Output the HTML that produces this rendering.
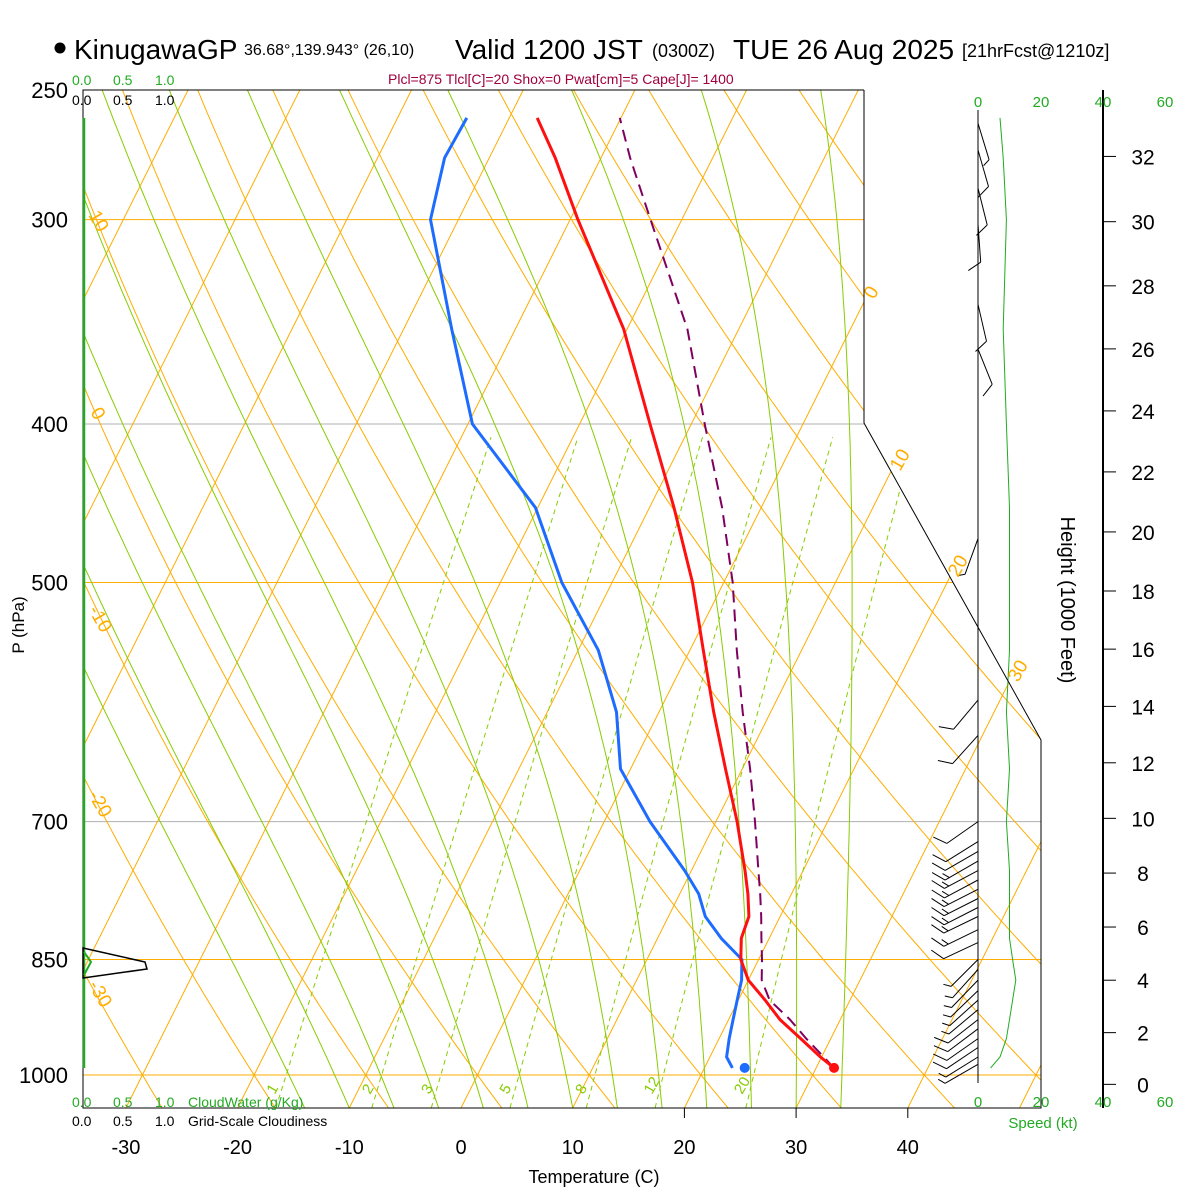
<!DOCTYPE html>
<html><head><meta charset="utf-8"><style>
html,body{margin:0;padding:0;background:#fff;}
svg{display:block;font-family:"Liberation Sans",sans-serif;}
</style></head><body>
<svg id="chart" width="1200" height="1200" viewBox="0 0 1200 1200" xmlns="http://www.w3.org/2000/svg">
<defs><clipPath id="plotclip"><polygon points="83,90 864,90 864,423 1041,740 1041,1108 83,1108"/></clipPath></defs>
<g id="bg" clip-path="url(#plotclip)"></g>
<g id="traces"></g>
<g id="winds"></g>
<g id="axes"></g>
<g>
<circle cx="60" cy="48" r="5.5" fill="#000"/>
<text x="74" y="59" font-size="28">KinugawaGP</text>
<text x="244" y="55" font-size="16">36.68°,139.943° (26,10)</text>
<text x="455" y="59" font-size="28">Valid 1200 JST</text>
<text x="652" y="57" font-size="18">(0300Z)</text>
<text x="733" y="59" font-size="28">TUE 26 Aug 2025</text>
<text x="962" y="57" font-size="18">[21hrFcst@1210z]</text>
<text x="388" y="84" font-size="14" fill="#a0003c">Plcl=875 Tlcl[C]=20 Shox=0 Pwat[cm]=5 Cape[J]= 1400</text>
</g>
<script>
// ---------- data ----------
const levels   = [990, 975, 950, 925, 900, 875, 850, 825, 800, 775, 750, 700, 650, 600, 550, 500, 450, 400, 350, 300, 275, 260];
const tempC    = [31.6, 29.9, 27.3, 24.6, 22.4, 20.0, 18.4, 17.5, 17.2, 16.1, 14.8, 11.9, 8.5, 4.9, 1.2, -2.8, -7.8, -13.7, -20.3, -29.3, -34.1, -37.5];
const dewC     = [22.5, 21.5, 20.9, 20.4, 19.9, 19.4, 18.5, 15.7, 13.3, 11.7, 9.4, 4.1, -0.9, -3.8, -8.2, -14.5, -20.2, -29.6, -35.7, -42.5, -44.0, -43.8];
const parcelC  = [31.6, 30.2, 27.8, 25.5, 22.8, 21.2, 20.3, 19.3, 18.3, 17.2, 16.0, 13.5, 10.7, 7.5, 4.2, 0.8, -3.5, -8.8, -14.6, -22.8, -27.4, -30.1];
const sfcTemp = 31.6, sfcDew = 23.6, sfcP = 990;
const speedKt  = [4, 7, 9, 10, 11, 12, 11, 10, 10, 10, 10, 9, 10, 9, 10, 10, 10, 9, 8, 9, 8, 7];
const barbP    = [262, 272, 287, 302, 338, 360, 470, 590, 620, 700, 720, 730, 740, 750, 760, 770, 780, 790, 800, 815, 830, 850, 862, 875, 888, 900, 912, 925, 937, 950, 962, 975, 985];
const barbDir  = [163, 164, 166, 176, 167, 158, 200, 220, 222, 235, 238, 240, 240, 242, 242, 243, 243, 243, 244, 244, 245, 225, 222, 224, 226, 228, 230, 232, 233, 235, 236, 238, 240];
const barbSpd  = [5, 10, 10, 10, 10, 10, 5, 10, 10, 10, 10, 10, 15, 15, 15, 15, 15, 15, 15, 15, 10, 5, 5, 5, 5, 5, 5, 10, 10, 10, 10, 5, 5];
const tempTicks = [-30, -20, -10, 0, 10, 20, 30, 40];
const presTicks = [250, 300, 400, 500, 700, 850, 1000];
const heightTicks = [0, 2, 4, 6, 8, 10, 12, 14, 16, 18, 20, 22, 24, 26, 28, 30, 32];
const isotherms = [-100,-90,-80,-70,-60,-50,-40,-30,-20,-10,0,10,20,30,40,50];
const dryAdiabats = [-40,-30,-20,-10,0,10,20,30,40,50,60,70,80,90,100,110,120,130,140,150,160,170,180];
const moistStarts = [-14,-10,-6,-2,2,6,10,14,18,22,26,30,34];
const mixRatios = [1, 2, 3, 5, 8, 12, 20];

// ---------- axis functions ----------
const NS = "http://www.w3.org/2000/svg";
function yP(p){ return 1075 - 710.5*Math.log(1000/p); }
function xT(t, y){ return 461 + 11.17*t + 0.5*(1108 - y); }
function hToP(kft){ return 1013.25*Math.pow(1 - 6.8756e-6*kft*1000, 5.2559); }
function xSpd(s){ return 978 + 3.15*s; }
function mk(tag, attrs, parent){ const e = document.createElementNS(NS, tag); for (const k in attrs) e.setAttribute(k, attrs[k]); parent.appendChild(e); return e; }
const bg = document.getElementById('bg'), tr = document.getElementById('traces'), wd = document.getElementById('winds'), ax = document.getElementById('axes');
const ORANGE = "#ffad00", GREEN = "#88cc00";
const pBottom = 1000*Math.exp(33/710.5);

// isobars
const isoCol = {250:"#000",300:ORANGE,400:"#b0b0b0",500:ORANGE,700:"#b0b0b0",850:ORANGE,1000:ORANGE};
presTicks.forEach(p => {
  if (p === 250) return;
  const y = yP(p);
  const l = mk('line', {x1:83, x2:1041, y1:y, y2:y, stroke:isoCol[p], 'stroke-width':1}, bg);
  
  
});
// isotherms
isotherms.forEach(t => {
  const l = mk('line', {x1:xT(t,1108), y1:1108, x2:xT(t,90), y2:90, stroke:ORANGE, 'stroke-width':1}, bg);
  
  
});
// dry adiabats
dryAdiabats.forEach(t0 => {
  const th = t0 + 273.15; let pts = [];
  for (let p = pBottom; p >= 240; p -= 10) { const y = yP(p); pts.push(xT(th*Math.pow(p/1000, 0.2857) - 273.15, y).toFixed(1) + ',' + y.toFixed(1)); }
  const l = mk('polyline', {points:pts.join(' '), fill:'none', stroke:ORANGE, 'stroke-width':1}, bg);
  
  
});
// moist adiabats
function es(tc){ return 6.112*Math.exp(17.67*tc/(tc+243.5)); }
moistStarts.forEach(t0 => {
  let T = t0 + 273.15, lp = Math.log(pBottom), pts = [];
  const Rd = 287.04, cp = 1005.7, Lv = 2.501e6, eps = 0.622;
  while (Math.exp(lp) > 240) {
    const p = Math.exp(lp), y = yP(p);
    pts.push(xT(T-273.15, y).toFixed(1) + ',' + y.toFixed(1));
    const e = es(T-273.15), rs = eps*e/(p-e);
    const dT = (Rd*T + Lv*rs)/(cp + Lv*Lv*rs*eps/(Rd*T*T));
    lp -= 0.01; T -= dT*0.01;
  }
  const l = mk('polyline', {points:pts.join(' '), fill:'none', stroke:GREEN, 'stroke-width':1}, bg);
  
  
});
// mixing ratio lines
mixRatios.forEach(w => {
  let pts = [];
  for (let p = pBottom; p >= 400; p -= 10) {
    const e = w*p/(622+w), a = Math.log(e/6.112), td = 243.5*a/(17.67-a), y = yP(p);
    pts.push(xT(td, y).toFixed(1) + ',' + y.toFixed(1));
  }
  const l = mk('polyline', {points:pts.join(' '), fill:'none', stroke:GREEN, 'stroke-width':1, 'stroke-dasharray':'5,4'}, bg);
  
  
  const p0 = 1000, e0 = w*p0/(622+w), a0 = Math.log(e0/6.112), td0 = 243.5*a0/(17.67-a0);
  const lx = xT(td0, 1090) - 4;
  const tx = mk('text', {x:lx, y:1095, 'font-size':15, fill:GREEN, transform:'rotate(-60 '+lx+' 1095)'}, ax);
  tx.textContent = w;
  
  
});

// traces
function trace(arr, color, width, dash, name){
  const pts = levels.map((p,i) => { const y = yP(p); return xT(arr[i], y).toFixed(1) + ',' + y.toFixed(1); });
  const l = mk('polyline', {points:pts.join(' '), fill:'none', stroke:color, 'stroke-width':width, 'stroke-linejoin':'round'}, tr);
  if (dash) l.setAttribute('stroke-dasharray', dash);
  
  
}
trace(parcelC, "#800060", 2, "12,7", "parcel-trace");
trace(dewC, "#1e6cff", 3, null, "dewpoint-trace");
trace(tempC, "#ff1010", 3, null, "temperature-trace");
const sy = yP(sfcP);
const c1 = mk('circle', {cx:xT(sfcTemp, sy), cy:sy, r:5, fill:'#ff1010'}, tr);


const c2 = mk('circle', {cx:xT(sfcDew, sy), cy:sy, r:5, fill:'#1e6cff'}, tr);



// wind speed profile
const spPts = levels.map((p,i) => xSpd(speedKt[i]).toFixed(1) + ',' + yP(p).toFixed(1));
const spl = mk('polyline', {points:spPts.join(' '), fill:'none', stroke:'#22aa22', 'stroke-width':1}, wd);


// wind barbs
barbP.forEach((p,i) => {
  const d = barbDir[i]*Math.PI/180, x0 = 978, y0 = yP(p), L = 38;
  const vx = Math.sin(d), vy = -Math.cos(d);
  const xt = x0 + L*vx, yt = y0 + L*vy;
  const a = Math.atan2(vy, vx) + 60*Math.PI/180, bx = Math.cos(a), by = Math.sin(a);
  let path = 'M' + x0 + ',' + y0.toFixed(1) + ' L' + xt.toFixed(1) + ',' + yt.toFixed(1);
  let s = barbSpd[i], k = 0;
  while (s >= 10) { const px = xt - k*5*vx, py = yt - k*5*vy; path += ' M' + px.toFixed(1) + ',' + py.toFixed(1) + ' l' + (15*bx).toFixed(1) + ',' + (15*by).toFixed(1); s -= 10; k++; }
  if (s >= 5) { const px = xt - k*5*vx, py = yt - k*5*vy; path += ' M' + px.toFixed(1) + ',' + py.toFixed(1) + ' l' + (8*bx).toFixed(1) + ',' + (8*by).toFixed(1); }
  const b = mk('path', {d:path, fill:'none', stroke:'#000', 'stroke-width':1}, wd);
  
  
});

// axes / frame
const fr = mk('polyline', {points:'864,90 83,90 83,1108 1041,1108 1041,740 864,423 864,90', fill:'none', stroke:'#000', 'stroke-width':1}, ax);


const cw = mk('line', {x1:84, y1:118, x2:84, y2:1068, stroke:'#22aa22', 'stroke-width':2.5}, ax);


const cl = mk('polygon', {points:'83,948 145,962 147,969 83,978', fill:'none', stroke:'#000', 'stroke-width':1.5}, ax);


const cg = mk('polyline', {points:'84,952 91,962 84,975', fill:'none', stroke:'#22aa22', 'stroke-width':2}, ax);


const wa = mk('line', {x1:978, y1:110, x2:978, y2:1083, stroke:'#000', 'stroke-width':1}, ax);


const ha = mk('line', {x1:1103, y1:90, x2:1103, y2:1108, stroke:'#000', 'stroke-width':2}, ax);



tempTicks.forEach(t => {
  const x = xT(t, 1108);
  if (t >= 20) { const tk = mk('line', {x1:x, x2:x, y1:1108, y2:1118, stroke:'#000'}, ax);   }
  const tx = mk('text', {x:x, y:1154, 'font-size':20, 'text-anchor':'middle'}, ax);
  tx.textContent = t;
  
  
});
presTicks.forEach(p => {
  const tx = mk('text', {x:68, y:yP(p)+8, 'font-size':22, 'text-anchor':'end'}, ax);
  tx.textContent = p;
  
  
});
heightTicks.forEach(h => {
  const y = yP(hToP(h));
  const tk = mk('line', {x1:1103, x2:1116, y1:y, y2:y, stroke:'#000'}, ax);
  
  
  const tx = mk('text', {x:1143, y:y+8, 'font-size':21, 'text-anchor':'middle'}, ax);
  tx.textContent = h;
  
  
});
</script>
<g font-size="18">
<text x="594" y="1183" text-anchor="middle">Temperature (C)</text>
<text x="24" y="625" text-anchor="middle" transform="rotate(-90 24 625)" font-size="17">P (hPa)</text>
<text x="1061" y="600" text-anchor="middle" transform="rotate(90 1061 600)" font-size="20">Height (1000 Feet)</text>
<text x="1043" y="1128" text-anchor="middle" font-size="15" fill="#22aa22">Speed (kt)</text>
</g>
<g font-size="14">
<g fill="#22aa22"><text x="72" y="85">0.0</text><text x="113" y="85">0.5</text><text x="155" y="85">1.0</text></g>
<g fill="#000"><text x="72" y="105">0.0</text><text x="113" y="105">0.5</text><text x="155" y="105">1.0</text></g>
<g fill="#22aa22"><text x="72" y="1107">0.0</text><text x="113" y="1107">0.5</text><text x="155" y="1107">1.0</text><text x="188" y="1107">CloudWater (g/Kg)</text></g>
<g fill="#000"><text x="72" y="1126">0.0</text><text x="113" y="1126">0.5</text><text x="155" y="1126">1.0</text><text x="188" y="1126">Grid-Scale Cloudiness</text></g>
<g fill="#22aa22" text-anchor="middle" font-size="15"><text x="978" y="107">0</text><text x="1041" y="107">20</text><text x="1103" y="107">40</text><text x="1165" y="107">60</text></g>
<g fill="#22aa22" text-anchor="middle" font-size="15"><text x="978" y="1107">0</text><text x="1041" y="1107">20</text><text x="1103" y="1107">40</text><text x="1165" y="1107">60</text></g>
</g>
<g fill="#ffad00" font-size="19">
<text x="88" y="215" transform="rotate(60 88 215)">10</text>
<text x="90" y="412" transform="rotate(60 90 412)">0</text>
<text x="88" y="610" transform="rotate(60 88 610)">-10</text>
<text x="88" y="795" transform="rotate(60 88 795)">-20</text>
<text x="88" y="985" transform="rotate(60 88 985)">-30</text>
<text x="874" y="300" transform="rotate(-60 874 300)">0</text>
<text x="900" y="472" transform="rotate(-60 900 472)">10</text>
<text x="958" y="578" transform="rotate(-60 958 578)">20</text>
<text x="1018" y="683" transform="rotate(-60 1018 683)">30</text>
</g>
</svg>
</body></html>
